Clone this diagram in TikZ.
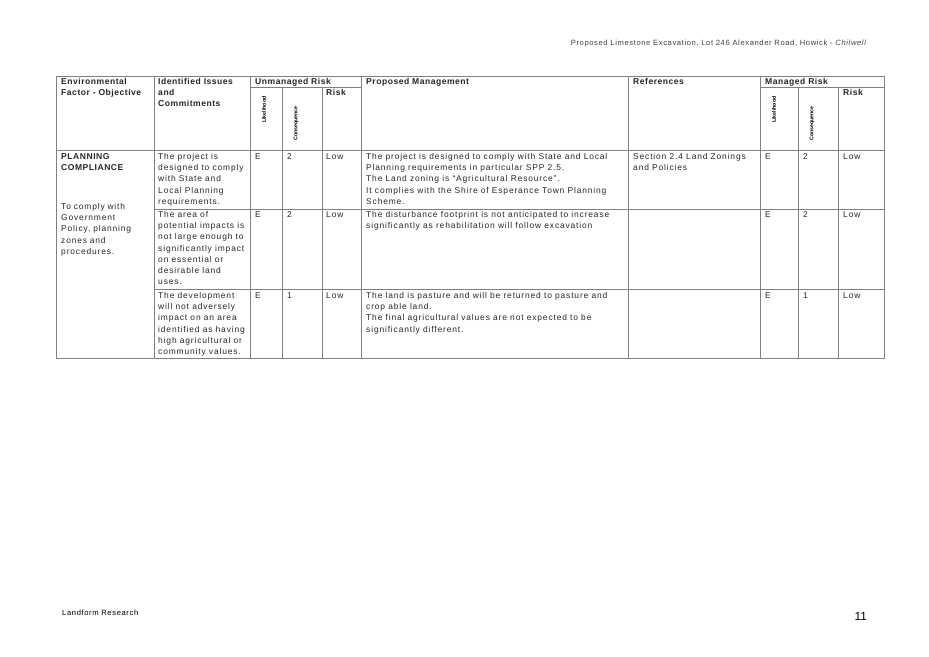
\documentclass[tikz,border=0pt]{standalone}
\usepackage{fontspec}
\setmainfont{Liberation Sans}
\usetikzlibrary{positioning}
\definecolor{rule}{HTML}{808080}

\begin{document}
\begin{tikzpicture}[x=0.03cm, y=-0.03cm,
    cell/.style={anchor=north west, inner sep=0pt, align=left, font=\fontsize{7.2}{9.6}\selectfont\addfontfeature{LetterSpace=10}, text=black!85},
    head/.style={cell, font=\fontsize{7.3}{9.6}\selectfont\bfseries\addfontfeature{LetterSpace=6}},
    vert/.style={rotate=90, anchor=west, inner sep=0pt, font=\fontsize{4.5}{5}\selectfont\bfseries},
    grid/.style={draw=rule, line width=0.5pt}]
  \useasboundingbox (0,0) rectangle (929,657);
  % page header and footer
  \node[anchor=east, inner sep=0pt, font=\fontsize{6.5}{8}\selectfont\addfontfeature{LetterSpace=8}, text=black!75] (title) at (867,44)
    {Proposed Limestone Excavation, Lot 246 Alexander Road, Howick - \textit{Chilwell}};
  \node[anchor=west, inner sep=0pt, font=\fontsize{6.5}{8}\selectfont\addfontfeature{LetterSpace=8}] (firm) at (62,613) {Landform Research};
  \node[anchor=east, inner sep=0pt, font=\fontsize{10}{12}\rmfamily\selectfont] (page) at (867,616) {11};
  % table rules
  \draw[grid] (56,76) rectangle (884,358);
  \draw[grid] (56,150) -- (884,150);
  \draw[grid] (154,209) -- (884,209);
  \draw[grid] (154,289) -- (884,289);
  \draw[grid] (250,87) -- (361,87);
  \draw[grid] (760,87) -- (884,87);
  \foreach \x in {154,250,361,628,760} \draw[grid] (\x,76) -- (\x,358);
  \foreach \x in {282,322,798,838} \draw[grid] (\x,87) -- (\x,358);
  % header cells
  \node[head] (hfac) at (61,78) {Environmental\\Factor - Objective};
  \node[head] (hiss) at (158,78) {Identified Issues\\and\\Commitments};
  \node[head] (hunm) at (255,78) {Unmanaged Risk};
  \node[head] (hur) at (326,89) {Risk};
  \node[head] (hpm) at (366,78) {Proposed Management};
  \node[head] (href) at (633,78) {References};
  \node[head] (hman) at (765,78) {Managed Risk};
  \node[head] (hmr) at (843,89) {Risk};
  \node[vert] (ul) at (264,123) {Likelihood};
  \node[vert] (uc) at (296,141) {Consequence};
  \node[vert] (ml) at (774,123) {Likelihood};
  \node[vert] (mc) at (812,141) {Consequence};
  % factor column
  \node[head] (fac) at (61,153) {PLANNING\\COMPLIANCE};
  \node[cell, text width=85] (obj) at (61,203) {To comply with\\Government\\Policy, planning\\zones and\\procedures.};
  % row 1
  \node[cell] (i1) at (158,153) {The project is\\designed to comply\\with State and\\Local Planning\\requirements.};
  \node[cell] (ul1) at (255,153) {E};
  \node[cell] (uc1) at (287,153) {2};
  \node[cell] (ur1) at (326,153) {Low};
  \node[cell] (m1) at (366,153) {The project is designed to comply with State and Local\\Planning requirements in particular SPP 2.5.\\The Land zoning is ``Agricultural Resource''.\\It complies with the Shire of Esperance Town Planning\\Scheme.};
  \node[cell] (r1) at (633,153) {Section 2.4 Land Zonings\\and Policies};
  \node[cell] (ml1) at (765,153) {E};
  \node[cell] (mc1) at (803,153) {2};
  \node[cell] (mr1) at (843,153) {Low};
  % row 2
  \node[cell] (i2) at (158,211) {The area of\\potential impacts is\\not large enough to\\significantly impact\\on essential or\\desirable land\\uses.};
  \node[cell] (ul2) at (255,211) {E};
  \node[cell] (uc2) at (287,211) {2};
  \node[cell] (ur2) at (326,211) {Low};
  \node[cell] (m2) at (366,211) {The disturbance footprint is not anticipated to increase\\significantly as rehabilitation will follow excavation};
  \node[cell] (ml2) at (765,211) {E};
  \node[cell] (mc2) at (803,211) {2};
  \node[cell] (mr2) at (843,211) {Low};
  % row 3
  \node[cell] (i3) at (158,292) {The development\\will not adversely\\impact on an area\\identified as having\\high agricultural or\\community values.};
  \node[cell] (ul3) at (255,292) {E};
  \node[cell] (uc3) at (287,292) {1};
  \node[cell] (ur3) at (326,292) {Low};
  \node[cell] (m3) at (366,292) {The land is pasture and will be returned to pasture and\\crop able land.\\The final agricultural values are not expected to be\\significantly different.};
  \node[cell] (ml3) at (765,292) {E};
  \node[cell] (mc3) at (803,292) {1};
  \node[cell] (mr3) at (843,292) {Low};
\end{tikzpicture}
\end{document}
